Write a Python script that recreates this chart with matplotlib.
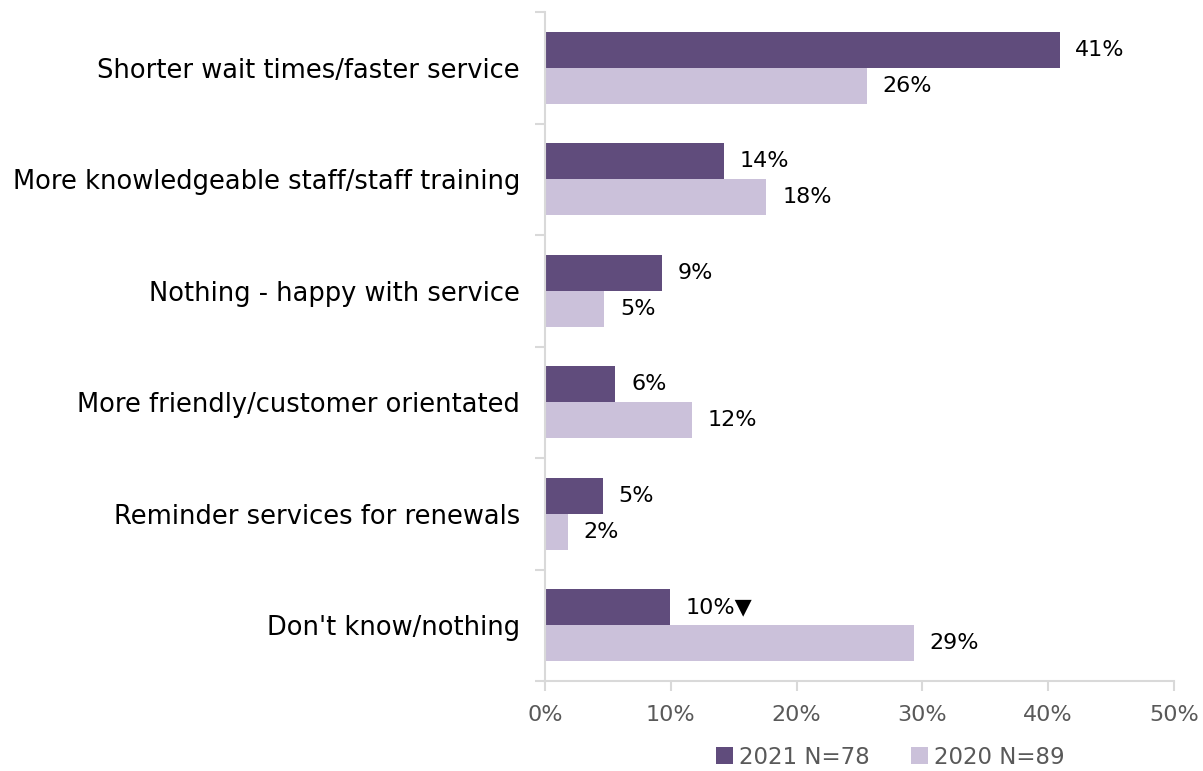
import matplotlib
matplotlib.use("Agg")
import matplotlib.pyplot as plt
import numpy as np
from matplotlib.ticker import FuncFormatter, MultipleLocator

categories = ["Shorter wait times/faster service",
              "More knowledgeable staff/staff training",
              "Nothing - happy with service",
              "More friendly/customer orientated",
              "Reminder services for renewals",
              "Don't know/nothing"]
v2021 = [40.9, 14.2, 9.3, 5.6, 4.6, 9.9]
v2020 = [25.6, 17.6, 4.7, 11.7, 1.8, 29.3]
lab2021 = ["41%", "14%", "9%", "6%", "5%", "10%\u25BC"]
lab2020 = ["26%", "18%", "5%", "12%", "2%", "29%"]
series_names = ["2021 N=78", "2020 N=89"]

c_dark = "#604C7C"
c_light = "#CBC1DA"
grey_axis = "#D9D9D9"
grey_text = "#595959"

plt.rcParams['font.family'] = ['DejaVu Sans']

fig = plt.figure(figsize=(12.03, 7.71), dpi=100)
ax = fig.add_axes([545/1203, 1-681/771, (1174-545)/1203, (681-12)/771])

n = len(categories)
y = np.arange(n)
h = 0.323
ax.barh(y - h/2, v2021, height=h, color=c_dark, label=series_names[0])
ax.barh(y + h/2, v2020, height=h, color=c_light, label=series_names[1])

for i in range(n):
    ax.text(v2021[i] + 1.25, y[i] - h/2, lab2021[i], va='center', ha='left', fontsize=16, color='black')
    ax.text(v2020[i] + 1.25, y[i] + h/2, lab2020[i], va='center', ha='left', fontsize=16, color='black')

ax.set_xlim(0, 50)
ax.set_ylim(n - 0.5, -0.5)
ax.xaxis.set_major_locator(MultipleLocator(10))
ax.xaxis.set_major_formatter(FuncFormatter(lambda v, p: f"{int(v)}%"))

ax.set_yticks(y)
ax.set_yticklabels(categories, fontsize=18.5, color='black')
ax.tick_params(axis='y', length=0, pad=18)
ax.set_yticks(np.arange(n + 1) - 0.5, minor=True)
ax.tick_params(axis='y', which='minor', length=7, color=grey_axis, width=1.5)
ax.tick_params(axis='x', length=7, color=grey_axis, width=1.5, labelsize=16, labelcolor=grey_text, pad=10)

for s in ['top', 'right']:
    ax.spines[s].set_visible(False)
for s in ['left', 'bottom']:
    ax.spines[s].set_color(grey_axis)
    ax.spines[s].set_linewidth(1.5)

leg = fig.legend(loc='center', bbox_to_anchor=(890/1203, 1-757/771), ncol=2, frameon=False,
                 fontsize=16.5, handlelength=0.75, handleheight=0.75, handletextpad=0.25, columnspacing=1.8)
for t in leg.get_texts():
    t.set_color(grey_text)

fig.savefig("out.png", dpi=100)
